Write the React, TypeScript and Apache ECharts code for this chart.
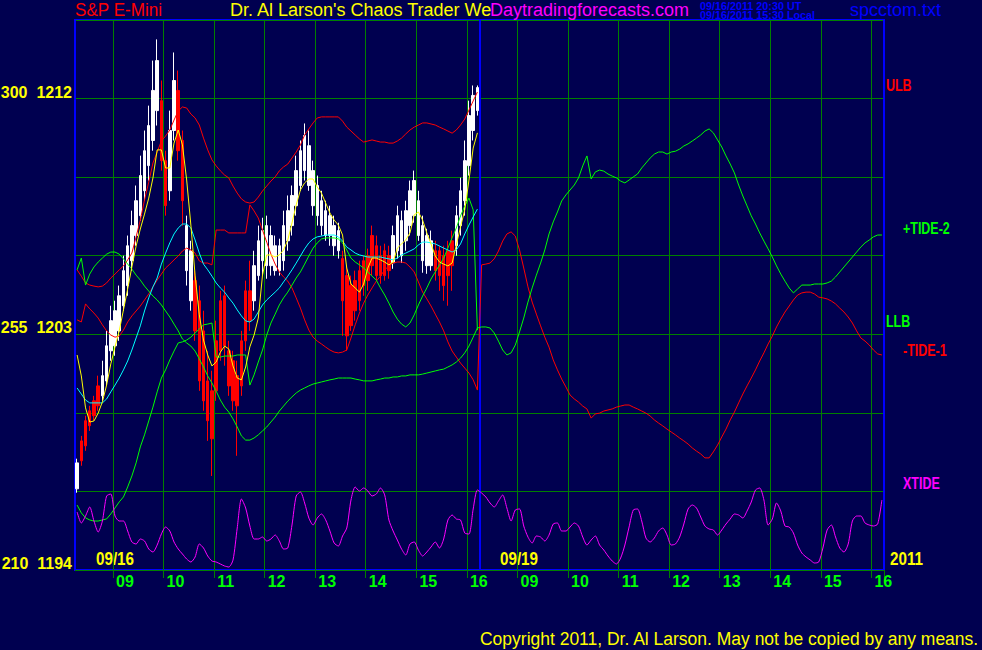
import React, { useEffect, useRef } from 'react';
import * as echarts from 'echarts';

// ---------- categories (5-minute slots, 08:15 .. 16:10, two sessions) ----------
const DAYS = ['09/16', '09/19'];
const SLOT_TIMES: string[] = Array.from({ length: 96 }, (_, i) => {
  const m = 8 * 60 + 15 + 5 * i;
  return `${String(Math.floor(m / 60)).padStart(2, '0')}:${String(m % 60).padStart(2, '0')}`;
});
const CATEGORIES: string[] = DAYS.flatMap((d) => SLOT_TIMES.map((t) => `${d} ${t}`));

// ---------- y-axis tick labels ----------
const Y_LABEL_VALUES = [1212, 1203, 1194];
const Y_LABEL_PREFIX = ['300', '255', '210'];

// ---------- S&P E-mini 09/16 bars: [open, close, low, high] ----------
const CANDLES_0916: number[][] = [
  [1197.10,1198.09,1196.95,1198.25],[1198.93,1198.17,1197.98,1199.12],[1199.70,1198.74,1198.55,1199.89],[1200.08,1199.51,1199.31,1200.27],
  [1200.46,1199.89,1199.70,1200.65],[1201.03,1200.27,1200.08,1201.42],[1200.65,1201.42,1200.46,1201.99],[1201.22,1202.56,1201.03,1203.13],
  [1202.37,1203.52,1201.99,1204.09],[1202.56,1203.90,1202.18,1204.28],[1203.13,1204.47,1202.75,1204.86],[1204.09,1205.43,1203.90,1206.00],
  [1204.86,1206.38,1204.47,1206.77],[1205.81,1207.15,1205.43,1207.72],[1206.77,1208.10,1206.38,1208.68],[1207.53,1209.06,1207.34,1209.82],
  [1208.48,1210.01,1208.10,1210.78],[1209.44,1210.97,1208.87,1211.73],[1210.40,1212.31,1210.01,1213.45],[1211.54,1213.45,1210.97,1214.26],
  [1211.92,1209.63,1209.25,1212.69],[1209.63,1207.91,1207.53,1210.01],[1208.48,1210.78,1208.10,1211.54],[1210.78,1212.69,1210.40,1213.76],
  [1212.31,1210.01,1209.63,1213.07],[1210.40,1208.10,1207.15,1210.78],[1205.43,1207.15,1204.86,1207.53],[1204.28,1206.19,1203.90,1206.57],
  [1205.05,1203.13,1202.75,1205.43],[1204.28,1201.22,1200.84,1204.86],[1203.13,1200.46,1200.08,1203.90],[1201.22,1199.70,1198.93,1202.37],
  [1200.84,1199.01,1197.59,1201.61],[1202.75,1200.84,1200.46,1203.52],[1204.28,1202.37,1201.99,1204.66],[1204.47,1202.56,1201.80,1204.86],
  [1202.37,1201.03,1200.65,1202.75],[1201.99,1200.46,1200.08,1202.37],[1201.42,1200.27,1198.36,1201.99],[1202.75,1201.03,1200.65,1203.13],
  [1204.66,1202.75,1202.37,1205.05],[1204.66,1203.52,1203.13,1205.81],[1204.28,1205.62,1203.90,1206.19],[1205.24,1206.57,1205.05,1207.15],
  [1205.81,1206.96,1205.24,1207.45],[1205.62,1207.15,1205.12,1207.53],[1205.62,1206.77,1205.24,1207.15],[1205.43,1206.38,1205.24,1206.77],
  [1205.43,1206.38,1205.24,1206.65],[1205.81,1207.15,1205.43,1207.72],[1206.57,1207.72,1206.19,1208.30],[1207.15,1208.30,1206.77,1208.68],
  [1207.91,1209.25,1207.53,1209.82],[1208.68,1210.01,1208.48,1210.40],[1209.25,1210.59,1208.87,1211.05],[1208.68,1210.20,1208.48,1210.78],
  [1207.91,1209.25,1207.53,1209.63],[1207.53,1208.68,1207.15,1209.06],[1207.15,1208.10,1206.77,1208.48],[1206.77,1207.72,1206.57,1208.10],
  [1206.77,1207.53,1206.38,1207.91],[1206.38,1207.15,1206.00,1207.53],[1206.19,1206.96,1205.89,1207.26],[1205.89,1204.28,1202.94,1206.19],
  [1205.24,1202.94,1202.37,1205.62],[1204.86,1203.33,1203.13,1205.24],[1205.05,1203.90,1203.52,1205.43],[1205.43,1204.28,1203.90,1205.81],
  [1205.81,1204.86,1204.47,1206.00],[1206.00,1205.05,1204.66,1206.27],[1206.77,1205.62,1205.24,1207.15],[1206.38,1205.24,1205.05,1206.77],
  [1206.00,1205.24,1204.93,1206.38],[1206.19,1205.24,1205.05,1206.46],[1206.00,1205.43,1205.12,1206.38],[1205.73,1206.77,1205.50,1207.15],
  [1206.19,1207.53,1205.89,1207.91],[1206.00,1207.34,1205.73,1207.72],[1206.57,1207.72,1206.19,1208.10],[1207.15,1208.48,1206.77,1208.87],
  [1207.53,1208.87,1207.26,1209.25],[1206.77,1208.10,1206.57,1208.48],[1205.81,1207.15,1205.35,1207.53],[1205.62,1206.77,1205.31,1207.03],
  [1205.62,1206.57,1205.43,1206.96],[1206.19,1205.43,1205.05,1206.57],[1206.19,1205.24,1204.66,1206.38],[1206.00,1204.86,1204.28,1206.38],
  [1206.19,1205.24,1204.09,1206.57],[1206.57,1205.62,1204.66,1206.96],[1206.38,1207.53,1206.00,1207.91],[1207.15,1208.48,1206.77,1208.98],
  [1208.10,1209.63,1207.53,1210.40],[1209.44,1211.35,1209.06,1211.92],[1210.78,1212.12,1210.40,1212.50],[1211.54,1212.42,1211.35,1212.50],
];

// ---------- indicator lines ----------
const YELLOW_AVG = [
  1202.21,1201.41,1200.19,1199.65,1199.69,1199.99,1200.42,1201.06,1201.87,1202.52,
  1203.13,1203.93,1204.73,1205.57,1206.37,1207.02,1207.59,1208.20,1208.97,1210.04,
  1210.04,1209.35,1209.35,1210.30,1210.80,1210.23,1208.89,1207.17,1205.26,1203.74,
  1202.78,1202.21,1201.79,1201.94,1202.32,1202.55,1202.44,1201.79,1201.33,1201.26,
  1201.75,1202.52,1202.97,1203.62,1205.26,1206.03,1206.03,1205.95,1206.03,1206.22,
  1206.60,1207.25,1207.94,1208.51,1208.78,1208.93,1208.93,1208.62,1208.39,1208.01,
  1207.63,1207.36,1207.17,1206.79,1205.53,1204.92,1204.77,1204.61,1204.92,1205.53,
  1205.91,1205.91,1205.84,1205.76,1205.65,1205.76,1206.29,1206.45,1206.60,1206.87,
  1207.56,1207.67,1207.36,1206.87,1206.45,1205.99,1205.76,1205.68,1205.61,1205.72,
  1206.41,1207.10,1207.75,1208.89,1210.11,1210.69,
];
const CYAN_AVG = [
  1200.95,1200.72,1200.49,1200.38,1200.38,1200.38,1200.38,1200.53,1200.80,1201.06,
  1201.33,1201.64,1201.98,1202.40,1202.86,1203.32,1203.89,1204.39,1204.81,1205.15,
  1205.68,1206.10,1206.49,1206.83,1207.06,1207.21,1207.21,1207.06,1206.60,1206.10,
  1205.68,1205.46,1205.22,1204.96,1204.77,1204.61,1204.39,1204.19,1203.93,1203.70,
  1203.51,1203.47,1203.58,1203.85,1204.12,1204.31,1204.46,1204.61,1204.77,1205.00,
  1205.22,1205.46,1205.72,1205.99,1206.26,1206.49,1206.64,1206.72,1206.75,1206.79,
  1206.79,1206.79,1206.72,1206.56,1206.33,1206.22,1206.10,1206.03,1205.99,1205.95,
  1205.95,1205.95,1205.95,1205.91,1205.88,1205.84,1205.91,1206.03,1206.10,1206.18,
  1206.26,1206.41,1206.52,1206.52,1206.49,1206.45,1206.37,1206.29,1206.22,1206.14,
  1206.22,1206.45,1206.83,1207.17,1207.48,1207.78,
];
const ULB = [
  1205.46,1205.22,1204.96,1204.88,1204.84,1204.81,1204.84,1204.96,1205.15,1205.30,
  1205.46,1205.61,1205.84,1206.10,1206.72,1207.36,1208.13,1208.81,1209.54,1209.96,
  1210.38,1210.57,1210.80,1211.18,1211.53,1211.68,1211.64,1211.41,1211.26,1210.99,
  1210.49,1210.04,1209.66,1209.43,1209.24,1209.08,1208.97,1208.66,1208.39,1208.17,
  1208.05,1208.01,1208.05,1208.24,1208.47,1208.66,1208.85,1209.01,1209.24,1209.39,
  1209.50,1209.73,1209.96,1210.23,1210.61,1210.84,1211.07,1211.26,1211.30,1211.30,
  1211.30,1211.30,1211.30,1211.14,1210.91,1210.76,1210.61,1210.46,1210.34,1210.38,
  1210.42,1210.38,1210.34,1210.34,1210.30,1210.30,1210.38,1210.49,1210.65,1210.80,
  1210.91,1210.99,1211.07,1211.07,1211.03,1210.99,1210.91,1210.84,1210.76,1210.68,
  1210.80,1210.99,1211.22,1211.56,1211.91,1212.25,
];
const LLB = [
  1196.48,1196.18,1195.99,1195.91,1195.87,1195.87,1195.91,1195.95,1196.14,1196.37,
  1196.60,1196.79,1197.17,1197.59,1198.09,1198.70,1199.16,1199.69,1200.22,1200.80,
  1201.33,1201.64,1202.02,1202.36,1202.67,1202.71,1202.78,1202.89,1203.05,1203.20,
  1203.36,1203.39,1203.43,1202.13,1202.13,1202.17,1202.17,1202.17,1202.21,1202.21,
  1202.21,1201.06,1201.45,1201.94,1202.40,1202.97,1203.43,1203.77,1204.12,1204.39,
  1204.61,1204.88,1205.15,1205.38,1205.68,1205.99,1206.29,1206.49,1206.64,1206.68,
  1206.68,1206.68,1206.64,1206.49,1206.22,1205.91,1205.76,1205.65,1205.53,1205.38,
  1205.22,1205.07,1204.77,1204.50,1204.19,1203.85,1203.58,1203.39,1203.28,1203.43,
  1203.74,1204.12,1204.46,1204.77,1205.11,1205.38,1205.65,1205.91,1206.29,1206.68,
  1207.06,1207.52,1207.90,1208.20,1207.75,1203.16,
];
const TIDE_1_0916 = [
  1203.55,1203.47,1204.16,1203.97,1203.81,1203.62,1203.36,1203.13,1202.97,1202.89,
  1202.93,1203.16,1203.47,1203.70,1203.89,1204.08,1204.31,1204.54,1204.81,1205.07,
  1205.30,1205.53,1205.68,1205.84,1205.99,1206.18,1206.29,1206.22,1206.10,1205.80,
  1205.72,1205.72,1205.65,1206.98,1206.98,1206.98,1206.87,1206.87,1206.87,1206.87,
  1206.87,1207.94,1207.71,1207.44,1206.98,1206.52,1206.06,1205.68,1205.38,1205.19,
  1205.03,1204.77,1204.39,1204.00,1203.55,1203.16,1202.89,1202.74,1202.63,1202.51,
  1202.40,1202.32,1202.29,1202.32,1202.40,1202.86,1203.36,1203.81,1204.19,1204.50,
  1204.77,1205.03,1205.22,1205.46,1205.61,1205.72,1205.76,1205.76,1205.72,1205.57,
  1205.38,1205.00,1204.61,1204.35,1204.08,1203.77,1203.47,1203.13,1202.71,1202.36,
  1202.13,1201.90,1201.71,1201.52,1201.26,1200.87,
];
const TIDE_1_0919 = [
  1205.65,1205.68,1205.72,1205.88,1206.18,1206.56,1206.83,1206.91,1206.75,1206.22,
  1205.53,1204.81,1204.23,1203.77,1203.32,1202.89,1202.51,1202.02,1201.64,1201.29,
  1200.99,1200.68,1200.53,1200.41,1200.26,1200.15,1199.80,1199.96,1199.99,1200.07,
  1200.11,1200.15,1200.22,1200.26,1200.30,1200.30,1200.22,1200.15,1200.07,1199.99,
  1199.88,1199.73,1199.61,1199.50,1199.38,1199.27,1199.16,1199.04,1198.93,1198.81,
  1198.66,1198.54,1198.43,1198.28,1198.28,1198.51,1198.77,1199.08,1199.38,1199.73,
  1200.03,1200.38,1200.72,1201.03,1201.33,1201.64,1201.98,1202.29,1202.63,1202.93,
  1203.28,1203.58,1203.85,1204.08,1204.31,1204.50,1204.58,1204.61,1204.61,1204.54,
  1204.42,1204.39,1204.35,1204.27,1204.16,1204.00,1203.85,1203.66,1203.43,1203.13,
  1202.86,1202.74,1202.59,1202.40,1202.25,1202.21,
];
const TIDE_2_0916 = [
  1205.46,1205.91,1204.88,1205.30,1205.57,1205.76,1205.91,1206.06,1206.14,1206.14,
  1206.06,1205.88,1205.68,1205.49,1205.26,1205.07,1204.84,1204.65,1204.46,1204.31,
  1204.12,1203.89,1203.66,1203.39,1203.13,1202.82,1202.67,1202.55,1202.36,1202.06,
  1201.75,1201.41,1201.14,1200.83,1200.49,1200.22,1200.03,1199.77,1199.46,1199.12,
  1198.96,1198.96,1199.04,1199.16,1199.31,1199.46,1199.65,1199.84,1200.07,1200.26,
  1200.45,1200.61,1200.76,1200.87,1200.95,1201.03,1201.10,1201.14,1201.18,1201.22,
  1201.26,1201.29,1201.33,1201.33,1201.33,1201.33,1201.29,1201.26,1201.22,1201.22,
  1201.22,1201.26,1201.29,1201.33,1201.33,1201.37,1201.37,1201.41,1201.41,1201.45,
  1201.45,1201.45,1201.48,1201.52,1201.56,1201.60,1201.64,1201.67,1201.75,1201.83,
  1201.94,1202.09,1202.29,1202.55,1202.89,1203.24,
];
const TIDE_2_0919 = [
  1203.28,1203.28,1203.24,1203.05,1202.74,1202.40,1202.21,1202.29,1202.59,1203.09,
  1203.62,1204.23,1204.77,1205.26,1205.72,1206.22,1206.83,1207.29,1207.67,1208.09,
  1208.32,1208.51,1208.70,1208.97,1209.43,1209.81,1208.93,1209.20,1209.27,1209.23,
  1209.12,1209.04,1208.97,1208.85,1208.78,1208.89,1209.01,1209.12,1209.35,1209.54,
  1209.73,1209.88,1209.96,1209.96,1209.88,1209.96,1209.99,1210.07,1210.19,1210.27,
  1210.38,1210.49,1210.61,1210.76,1210.84,1210.69,1210.42,1210.15,1209.81,1209.50,
  1209.16,1208.70,1208.28,1207.90,1207.52,1207.21,1206.87,1206.56,1206.26,1205.95,
  1205.61,1205.30,1205.03,1204.77,1204.58,1204.73,1204.88,1204.88,1204.88,1204.92,
  1204.92,1204.92,1204.96,1205.03,1205.19,1205.38,1205.57,1205.76,1205.95,1206.14,
  1206.33,1206.49,1206.60,1206.72,1206.79,1206.79,
];
const XTIDE_0916 = [
  5.8,4.7,5.4,6.3,4.9,3.8,4.9,7.4,7.6,5.4,
  4.9,4.9,3.9,2.8,2.6,3.1,2.9,2.1,1.8,2.5,
  3.6,4.3,3.9,2.8,2.1,1.6,1.1,0.8,1.3,2.6,
  2.2,1.4,0.9,0.8,0.6,0.4,0.3,1.0,4.2,7.1,
  6.2,4.4,3.1,3.1,3.3,2.9,3.1,3.5,2.9,2.1,
  2.2,4.5,7.4,7.8,6.7,5.2,4.5,5.2,5.6,5.0,
  3.9,2.7,2.4,3.4,4.2,7.0,8.3,7.9,8.2,7.9,
  7.4,7.6,8.2,7.5,5.0,3.9,3.0,2.1,1.5,2.6,
  2.8,2.0,1.4,1.8,2.3,2.8,2.2,3.1,5.0,5.5,
  5.1,5.0,3.7,3.6,6.1,8.0,
];
const XTIDE_0919 = [
  7.7,7.3,6.7,6.3,6.9,7.5,6.2,4.9,6.0,6.1,
  4.4,3.3,2.7,3.4,3.3,2.9,3.5,4.6,4.7,3.9,
  3.9,4.3,4.7,4.4,3.3,2.5,3.0,3.4,2.5,2.0,
  1.4,0.9,0.6,1.2,2.5,4.3,6.0,6.1,4.9,3.2,
  2.8,3.2,3.9,4.2,3.5,2.5,2.6,3.3,4.6,6.1,
  6.5,6.2,5.3,4.4,4.1,4.0,3.5,4.0,4.6,5.1,
  5.6,5.5,5.2,5.9,6.8,8.0,8.2,7.0,4.5,5.1,
  6.7,5.9,4.4,4.3,3.7,2.5,1.7,1.3,1.0,0.7,
  0.8,2.2,4.0,4.5,3.3,2.2,1.8,2.6,4.9,5.4,
  5.4,4.7,4.5,4.4,4.6,7.0,
];

const BG = '#000050';
const GRID_GREEN = '#008000';
const SANS = "'Liberation Sans', Arial, sans-serif";

const isHour = (_: number, v: string) => v.endsWith(':00');

const lineSeries = (name: string, data: number[], color: string, yAxisIndex = 0, smooth: number | boolean = false) => ({
  name,
  type: 'line',
  data,
  yAxisIndex,
  symbol: 'none',
  showSymbol: false,
  smooth,
  silent: true,
  lineStyle: { color, width: 1 },
  itemStyle: { color },
});

const txt = (
  text: string, x: number, y: number, fill: string, fontSize: number,
  fontWeight: any = 'normal', scaleX = 1,
) => ({
  type: 'text',
  x,
  y,
  scaleX,
  silent: true,
  style: { text, fill, fontSize, fontFamily: SANS, fontWeight, verticalAlign: 'top', align: 'left' },
});

export default function App() {
  const ref = useRef<HTMLDivElement>(null);
  useEffect(() => {
    const chart = echarts.init(ref.current!, null, { renderer: 'svg' });
    const option: any = {
      animation: false,
      backgroundColor: BG,
      grid: {
        left: 75, top: 20, width: 809, height: 550, show: true,
        containLabel: false, outerBoundsMode: 'none',
        borderColor: '#0000ff', borderWidth: 2, backgroundColor: BG,
      },
      xAxis: [
        {
          type: 'category',
          data: CATEGORIES,
          boundaryGap: true,
          axisLine: { show: false },
          axisTick: { show: true, interval: isHour, length: 8, lineStyle: { color: GRID_GREEN } },
          axisLabel: {
            interval: isHour,
            formatter: (v: string) => v.slice(6, 8),
            color: '#00ff00', fontSize: 16, fontFamily: SANS, fontWeight: 'bold',
            align: 'left', margin: 3, padding: [0, 0, 0, 1],
          },
          splitLine: { show: true, interval: isHour, lineStyle: { color: GRID_GREEN, width: 1 } },
        },
        {
          type: 'category',
          data: DAYS,
          boundaryGap: true,
          position: 'top',
          axisLine: { show: false },
          axisTick: { show: false },
          axisLabel: { show: false },
          splitLine: { show: true, lineStyle: { color: '#0000ff', width: 2 } },
        },
      ],
      yAxis: [
        {
          type: 'value', min: 1194, max: 1215, interval: 3,
          axisLine: { show: false }, axisTick: { show: false },
          splitLine: { show: true, lineStyle: { color: GRID_GREEN, width: 1 } },
          axisLabel: {
            formatter: (v: number) => {
              const k = Y_LABEL_VALUES.indexOf(v);
              return k >= 0 ? `${Y_LABEL_PREFIX[k]}  ${v}` : '';
            },
            color: '#ffff00', fontSize: 16, fontFamily: SANS, fontWeight: 'bold',
            margin: 3, verticalAlign: 'bottom', lineHeight: 13,
          },
        },
        { type: 'value', min: 0, max: 55, show: false, splitLine: { show: false } },
      ],
      series: [
        {
          name: 'S&P E-Mini', type: 'candlestick', data: CANDLES_0916, barWidth: 3, silent: true,
          itemStyle: { color: '#ffffff', color0: '#ff0000', borderColor: '#ffffff', borderColor0: '#ff0000', borderWidth: 1 },
        },
        lineSeries('ULB', ULB, '#ff0000'),
        lineSeries('-TIDE-1', [...TIDE_1_0916, ...TIDE_1_0919], '#ff0000'),
        lineSeries('+TIDE-2', [...TIDE_2_0916, ...TIDE_2_0919], '#00ff00'),
        lineSeries('LLB', LLB, '#00ff00'),
        lineSeries('slow avg', CYAN_AVG, '#00ffff'),
        lineSeries('fast avg', YELLOW_AVG, '#ffff00'),
        lineSeries('XTIDE', [...XTIDE_0916, ...XTIDE_0919], '#ff00ff', 1, 0.25),
      ],
      graphic: [
        txt('S&P E-Mini', 75, 1, '#ff0000', 18, 'normal', 0.95),
        txt("Dr. Al Larson's Chaos Trader We", 230, 1, '#ffff00', 18),
        txt('Daytradingforecasts.com', 490, 1, '#ff00ff', 18),
        txt('09/16/2011 20:30 UT', 700, 2, '#0000ff', 10, 'bold', 1.08),
        txt('09/16/2011 15:30 Local', 700, 11, '#0000ff', 10, 'bold', 1.08),
        txt('spcctom.txt', 850, 1, '#0000ff', 18),
        txt('Copyright 2011, Dr. Al Larson. May not be copied by any means.', 480, 630, '#ffff00', 18, 'normal', 0.972),
        txt(DAYS[0], 96, 549, '#ffff00', 19, 'bold', 0.8),
        txt(DAYS[1], 500, 549, '#ffff00', 19, 'bold', 0.8),
        txt('2011', 890, 549, '#ffff00', 19, 'bold', 0.8),
        txt('ULB', 886, 77, '#ff0000', 16, 'bold', 0.78),
        txt('+TIDE-2', 903, 220, '#00ff00', 16, 'bold', 0.78),
        txt('LLB', 886, 313, '#00ff00', 16, 'bold', 0.78),
        txt('-TIDE-1', 903, 342, '#ff0000', 16, 'bold', 0.78),
        txt('XTIDE', 903, 475, '#ff00ff', 16, 'bold', 0.78),
      ],
    };
    chart.setOption(option);
    return () => chart.dispose();
  }, []);
  return (
    <div
      ref={ref}
      style={{ position: 'absolute', left: 0, top: 0, width: 982, height: 650, background: BG }}
    />
  );
}
